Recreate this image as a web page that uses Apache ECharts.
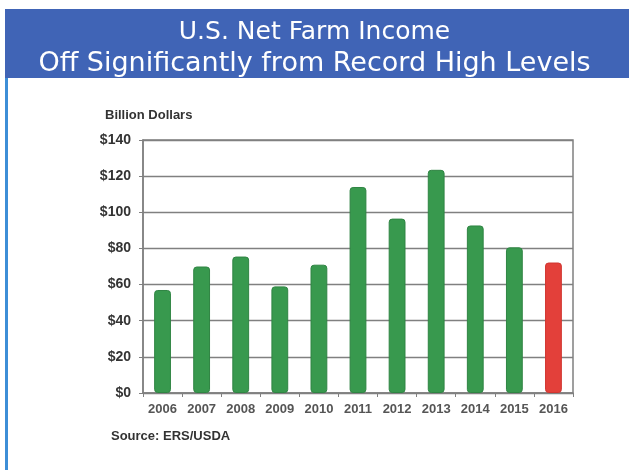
<!DOCTYPE html>
<html><head><meta charset="utf-8">
<script src="https://cdn.jsdelivr.net/npm/echarts@6/dist/echarts.min.js"></script>
<style>html,body{margin:0;padding:0;background:#fff}#c{width:629px;height:470px}</style>
</head><body><div id="c"></div>
<script>
const years = ['2006','2007','2008','2009','2010','2011','2012','2013','2014','2015','2016'];
const income = [57, 70, 75.5, 59, 71, 114, 96.5, 123.5, 92.7, 80.6, 72.2];
const barColors = ['#38994e','#38994e','#38994e','#38994e','#38994e','#38994e','#38994e','#38994e','#38994e','#38994e','#e3403a'];
const yTicks = [0,20,40,60,80,100,120,140];
const titleLines = ['U.S. Net Farm Income','Off Significantly from Record High Levels'];

const chart = echarts.init(document.getElementById('c'));
chart.setOption({
  animation:false,
  backgroundColor:'#fff',
  graphic:[
    {type:'rect', shape:{x:5,y:9,width:624,height:69}, style:{fill:'#4064b6'}},
    {type:'rect', shape:{x:5,y:78,width:3,height:392}, style:{fill:'#3d8ed7'}},
    {type:'text', left:105, top:109, style:{text:'Billion Dollars', font:'bold 13px "Liberation Sans", Arial', fill:'#333'}},
    {type:'text', left:111, top:430, style:{text:'Source: ERS/USDA', font:'bold 13px "Liberation Sans", Arial', fill:'#333'}}
  ],
  title:{
    text: '{a|'+titleLines[0]+'}\n{b|'+titleLines[1]+'}', left:'center', top:11,
    textStyle:{
      fontWeight:'normal',
      rich:{
        a:{color:'#fff', fontFamily:'"DejaVu Sans"', fontWeight:'normal', fontSize:25, lineHeight:32, align:'center'},
        b:{color:'#fff', fontFamily:'"DejaVu Sans"', fontWeight:'normal', fontSize:27, lineHeight:32, align:'center'}
      }
    }
  },
  grid:{left:143, right:56, top:140, bottom:77, show:true, borderColor:'#808080', borderWidth:1.5},
  xAxis:{
    type:'category', data:years,
    axisLine:{lineStyle:{color:'#808080', width:1.5}},
    axisTick:{show:true, length:4, lineStyle:{color:'#808080'}},
    axisLabel:{interval:0, color:'#555', fontWeight:'bold', fontSize:13, fontFamily:'"Liberation Sans", Arial', margin:10}
  },
  yAxis:{
    type:'value', min:0, max:140, interval:20,
    axisLine:{show:true, lineStyle:{color:'#808080', width:1.5}},
    axisTick:{show:true, length:4, lineStyle:{color:'#808080'}},
    splitLine:{lineStyle:{color:'#808080', width:1.3}},
    axisLabel:{color:'#333', fontWeight:'bold', fontSize:14, fontFamily:'"Liberation Sans", Arial', margin:12,
      formatter:v=> yTicks.includes(v) ? '$'+v : ''}
  },
  series:[{
    type:'bar', barWidth:'43%',
    data: income.map((v,i)=>({value:v, itemStyle:{color:barColors[i], borderColor:i===10?'#d03530':'#2f8443', borderWidth:1, borderRadius:3}}))
  }]
});
</script></body></html>
